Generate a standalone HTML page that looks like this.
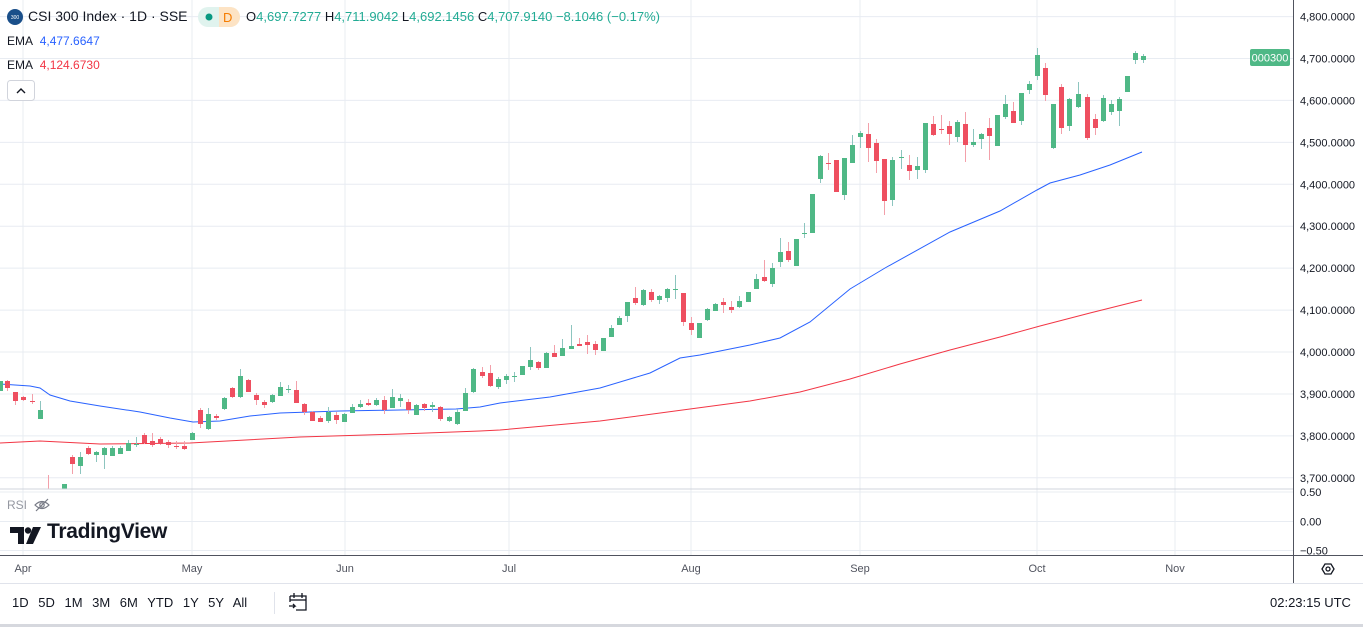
<!DOCTYPE html>
<html><head><meta charset="utf-8">
<style>
html,body{margin:0;padding:0;background:#fff;width:1363px;height:627px;overflow:hidden;font-family:"Liberation Sans",sans-serif;}
#c{position:absolute;left:0;top:0}
.t{position:absolute;white-space:nowrap;font-size:12px;color:#131722}
</style></head><body>
<svg id="c" width="1363" height="627" xmlns="http://www.w3.org/2000/svg">
<g id="grid" stroke="#e8ecf2" stroke-width="1"></g>
<g id="ema"></g>
<g id="cand"></g>
<line x1="0" y1="489" x2="1293" y2="489" stroke="#d1d4dc"/>
<line x1="0" y1="555.5" x2="1363" y2="555.5" stroke="#50535e"/>
<line x1="1293.5" y1="0" x2="1293.5" y2="583" stroke="#50535e"/>
<line x1="0" y1="583.5" x2="1363" y2="583.5" stroke="#e0e3eb"/>
<rect x="0" y="624" width="1363" height="3" fill="#d6d8de"/>
<g font-family="Liberation Sans,sans-serif" font-size="11" fill="#131722" id="ax"></g>
<rect x="1250" y="49" width="40" height="17" rx="2" fill="#4fb886"/>
<text x="1270" y="61.5" font-family="Liberation Sans,sans-serif" font-size="11" fill="#fff" text-anchor="middle">000300</text>
<circle cx="15" cy="17" r="8" fill="#1a4f8a"/>
<text x="15" y="19" font-size="5" fill="#fff" text-anchor="middle" font-family="Liberation Sans,sans-serif">300</text>
<rect x="198" y="7" width="42" height="20" rx="10" fill="#e0f3ee"/>
<path d="M219 7 h11 a10 10 0 0 1 0 20 h-11z" fill="#fde3c4"/>
<circle cx="209" cy="17" r="3.5" fill="#089981"/>
<text x="223" y="22" font-size="13" fill="#f57c00" font-family="Liberation Sans,sans-serif">D</text>
<rect x="7.5" y="80.5" width="27" height="20" rx="3" fill="#fff" stroke="#d1d4dc"/>
<path d="M17 93 l4 -4 l4 4" fill="none" stroke="#131722" stroke-width="1.4"/>
<path d="M10 527 h14 v17 h-6 v-11 h-8z" fill="#131722"/>
<circle cx="28" cy="530.5" r="3.2" fill="#131722"/>
<path d="M33 527 h8 l-8 17 h-7z" fill="#131722"/>
<g fill="none" stroke="#787b86" stroke-width="1.2"><path d="M35 505 q7 -7 14 0 q-7 7 -14 0z"/><circle cx="42" cy="505" r="2.2"/><path d="M36 511 l12 -12"/></g>
<path d="M1322 569 l3 -5 h6 l3 5 l-3 5 h-6z" fill="none" stroke="#131722" stroke-width="1.3"/>
<circle cx="1328" cy="569" r="2" fill="none" stroke="#131722" stroke-width="1.3"/>
<g fill="none" stroke="#131722" stroke-width="1.3"><path d="M290 596 h16 v14 h-10"/><path d="M290 596 v6"/><path d="M290 600 h16"/><path d="M294 593 v5 M302 593 v5"/><path d="M289 606 h6 l-2 -2 M295 606 l-2 2"/></g>
<line x1="274.5" y1="592" x2="274.5" y2="614" stroke="#e0e3eb"/>
</svg>
<div class="t" style="left:28px;top:8px;font-size:14px">CSI 300 Index · 1D · SSE</div>
<div class="t" style="left:246px;top:9px;font-size:13px;color:#131722">O<span style="color:#22ab94">4,697.7277</span> H<span style="color:#22ab94">4,711.9042</span> L<span style="color:#22ab94">4,692.1456</span> C<span style="color:#22ab94">4,707.9140</span> <span style="color:#22ab94">−8.1046 (−0.17%)</span></div>
<div class="t" style="left:7px;top:34px;font-size:12px">EMA <span style="color:#2962ff;margin-left:4px">4,477.6647</span></div>
<div class="t" style="left:7px;top:58px;font-size:12px">EMA <span style="color:#f23645;margin-left:4px">4,124.6730</span></div>
<div class="t" style="left:7px;top:498px;font-size:12px;color:#9598a1">RSI</div>
<div class="t" style="left:47px;top:520px;font-size:21px;font-weight:bold;letter-spacing:-0.3px">TradingView</div>
<div class="t" style="left:12px;top:595px;font-size:13px;word-spacing:6px">1D 5D 1M 3M 6M YTD 1Y 5Y All</div>
<div class="t" style="left:1270px;top:595px;font-size:13px">02:23:15 UTC</div>
<script>
const NS="http://www.w3.org/2000/svg";
function el(p,n,a){const e=document.createElementNS(NS,n);for(const k in a)e.setAttribute(k,a[k]);p.appendChild(e);return e;}
const grid=document.getElementById('grid'),ax=document.getElementById('ax');
const pr=[4800,4700,4600,4500,4400,4300,4200,4100,4000,3900,3800,3700];
pr.forEach(p=>{const y=58.5+(4700-p)*0.4193;if(y<489)el(grid,'line',{x1:0,y1:y,x2:1293,y2:y});
 const t=el(ax,'text',{x:1300,y:y+4});t.textContent=p.toLocaleString('en-US')+'.0000';});
[[492,'0.50'],[521.5,'0.00'],[550.5,'−0.50']].forEach(a=>{el(grid,'line',{x1:0,y1:a[0],x2:1293,y2:a[0]});const t=el(ax,'text',{x:1300,y:a[0]+4});t.textContent=a[1];});
[[23,'Apr'],[192,'May'],[345,'Jun'],[509,'Jul'],[691,'Aug'],[860,'Sep'],[1037,'Oct'],[1175,'Nov']].forEach(a=>{
 el(grid,'line',{x1:a[0],y1:0,x2:a[0],y2:555});const t=el(ax,'text',{x:a[0],y:572,'text-anchor':'middle',fill:'#50535e'});t.textContent=a[1];});
const C=[[0,381,391,0,0,1],[7,381,388,380,391,0],[15,392,401,392,405,0],[23,397,400,396,401,0],[32,401,402,394,404,0],[40,410,419,401,419,1],[48,489,489,475,489,0],
[64,484,489,484,489,1],[72,457,464,455,474,0],[80,457,466,452,474,1],[88,448,454,446,455,0],[96,452,455,451,462,1],[104,448,455,447,469,1],[112,448,456,446,456,1],[120,448,454,446,454,1],
[128,443,451,440,451,1],[136,444,445,437,447,1],[144,435,443,433,444,0],[152,441,445,433,447,0],[160,439,444,437,445,0],[168,442,445,440,448,0],[176,446,447,441,449,0],[184,446,449,441,450,0],
[192,433,440,432,440,1],[200,410,424,408,428,0],[208,414,429,408,430,1],[216,416,418,414,420,0],[224,398,409,397,410,1],[232,388,397,387,398,0],[240,376,397,369,398,1],[248,380,392,379,392,0],
[256,395,400,393,405,0],[264,402,405,400,408,0],[272,395,402,394,403,1],[280,387,396,382,396,1],[288,389,390,385,393,1],[296,390,403,381,403,0],[304,404,412,403,415,0],[312,412,421,411,421,0],
[320,418,422,416,422,0],[328,412,421,407,423,1],[336,415,420,412,424,0],[344,414,422,413,422,1],[352,407,413,404,413,1],[360,404,407,400,408,1],[368,403,405,399,406,0],[376,400,405,398,406,1],
[384,400,410,396,414,0],[392,397,408,389,408,1],[400,398,401,394,407,1],[408,402,410,399,414,0],[416,405,415,404,415,1],[424,404,408,403,411,0],[432,405,407,402,412,1],[440,407,419,406,421,0],
[449,417,421,416,422,1],[457,412,424,409,425,1],[465,393,411,388,411,1],[473,369,392,368,393,1],[482,372,376,367,378,0],[490,373,386,365,387,0],[498,379,387,377,389,1],[506,376,380,374,384,1],
[514,376,377,372,382,1],[522,366,375,366,375,1],[530,360,367,347,370,1],[538,362,368,361,370,0],[546,353,368,352,368,1],[554,353,357,345,357,0],[562,348,356,339,356,1],[571,346,349,325,349,1],
[579,344,346,338,346,0],[587,342,345,335,354,0],[595,344,350,341,355,0],[603,338,351,338,351,1],[611,328,337,325,337,1],[619,318,325,316,325,1],[627,302,316,302,322,1],[635,298,303,287,305,0],
[643,290,305,289,306,1],[651,292,300,289,302,0],[659,296,300,295,304,1],[667,289,298,288,302,1],[675,289,290,275,299,1],[683,293,322,293,326,0],[691,323,330,317,335,0],[699,323,338,323,338,1],
[707,309,320,308,321,1],[715,304,311,303,311,1],[723,302,305,298,313,0],[731,307,310,301,313,0],[739,301,307,296,308,1],[748,292,302,292,302,1],[756,279,289,274,289,1],[764,277,281,260,282,0],
[772,268,284,263,287,1],[780,252,262,238,267,1],[788,251,260,242,262,0],[796,239,266,239,266,1],[804,233,234,223,238,1],[812,194,233,194,233,1],[820,156,179,155,183,1],[828,163,164,153,170,0],
[836,160,192,160,192,0],[844,158,195,158,200,1],[852,145,163,135,163,1],[860,133,137,131,148,1],[868,134,148,123,162,0],[876,143,161,139,173,0],[884,159,201,159,215,0],[892,160,200,157,206,1],
[901,157,158,150,169,1],[909,165,171,155,180,0],[917,166,170,157,179,1],[925,123,170,123,173,1],[933,124,135,116,136,0],[941,129,130,115,134,0],[949,126,134,121,145,0],[957,122,137,120,142,1],
[965,124,145,112,162,0],[973,142,145,129,147,1],[981,134,139,133,149,1],[989,128,136,118,160,0],[997,115,146,115,146,1],[1005,104,117,95,119,1],[1013,111,123,102,123,0],[1021,93,121,93,125,1],
[1029,84,90,81,94,1],[1037,55,76,48,80,1],[1045,68,95,63,101,0],[1053,104,148,104,149,1],[1061,87,128,84,134,0],[1069,99,126,98,131,1],[1078,94,107,82,108,1],[1087,97,138,94,140,0],
[1095,119,128,114,135,0],[1103,98,121,95,122,1],[1111,104,112,100,115,1],[1119,99,111,97,126,1],[1127,76,92,76,92,1],[1135,53,60,51,64,1],[1143,56,60,54,63,1]];
const cg=document.getElementById('cand');
C.forEach(c=>{const [x,t,b,wt,wb,g]=c;const wtop=wt||t,wbot=wb||b;
 el(cg,'line',{x1:x+0.5,y1:wtop,x2:x+0.5,y2:wbot,stroke:g?'#8dc5bf':'#f3a0aa','stroke-width':1});
 if(t<489)el(cg,'rect',{x:x-2,y:t,width:5,height:Math.max(1,Math.min(b,489)-t),fill:g?'#4fb886':'#ee4f60'});});
const eg=document.getElementById('ema');
const blue=[[0,384],[30,386],[40,388],[50,395],[70,401],[100,406],[140,412],[170,418],[193,422],[220,421],[250,416],[280,413],[340,411],[400,410],[456,409],[480,407],[500,403],[550,397],[600,388],[650,373],[680,358],[700,355],[750,345],[780,338],[810,322],[850,289],[885,268],[950,232],[1000,211],[1037,190],[1050,183],[1080,175],[1110,165],[1142,152]];
const red=[[0,443],[40,441],[100,444],[190,443],[300,437],[400,434],[480,431],[500,430],[600,421],[690,409],[750,401],[800,392],[850,379],[900,364],[950,350],[1000,337],[1040,326],[1090,313],[1142,300]];
el(eg,'polyline',{points:blue.map(p=>p.join(',')).join(' '),fill:'none',stroke:'#2962ff','stroke-width':1});
el(eg,'polyline',{points:red.map(p=>p.join(',')).join(' '),fill:'none',stroke:'#f23645','stroke-width':1});
</script>
</body></html>
